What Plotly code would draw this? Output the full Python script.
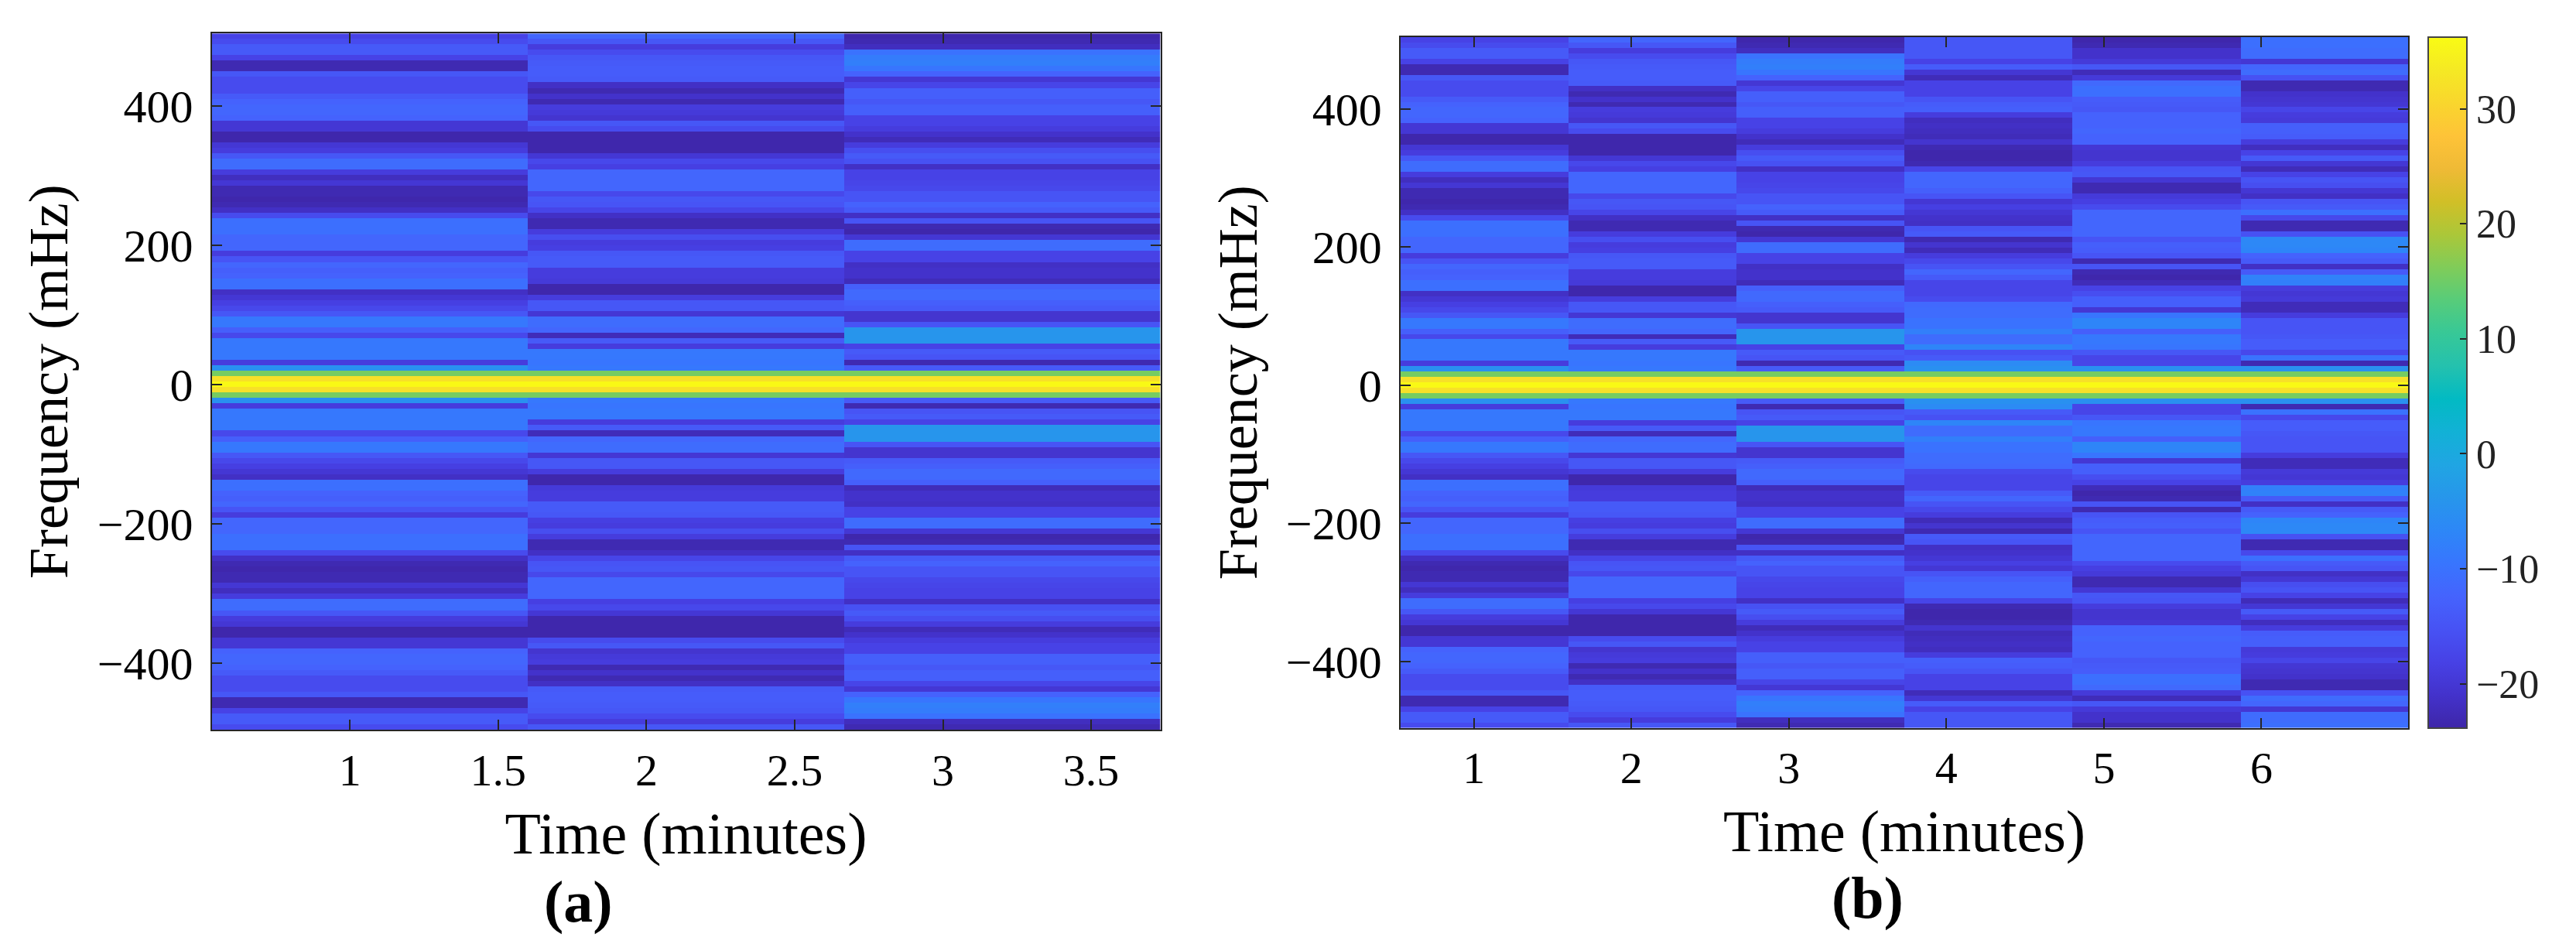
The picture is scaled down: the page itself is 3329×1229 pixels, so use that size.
import plotly.graph_objects as go

W, H = 3329, 1229

# one spectrum per block for bins k = 0..64 (dB)
# the spectra are mirror images around 0 Hz, so the negative bins reuse them
block_1 = [36, 32, 15.5, -5, -19, -9, -9, -9, -9, -17, -13, -9, -9, -14.5, -17, -18.5, -20, -21.5, -10.5, -10.5,
           -12.5, -13, -12, -15, -19, -12, -12, -12, -10.5, -10.5, -10.5, -16.5, -21.5, -23, -23.5, -23, -23,
           -20, -22, -19, -11, -11, -14.5, -19, -20, -23.5, -23.5, -20, -20, -12.5, -12, -12, -12.5, -14, -16.5,
           -16.5, -16.5, -14.5, -23, -23, -18, -14, -14, -16.5, -18]
block_2 = [36, 32, 15.5, -9, -9.5, -9, -9, -19, -14, -22.5, -12, -11, -11, -20, -14.5, -14.5, -19, -23.5, -23.5,
           -19.5, -19, -19, -14, -14, -14.5, -18.5, -19, -16, -19, -23, -23, -21.5, -17.5, -15, -14.5, -17, -12,
           -12, -12, -12, -18.5, -17, -20, -23.5, -23.5, -23.5, -23.5, -16.5, -14.5, -20.5, -19.5, -19, -23, -21,
           -23, -21.5, -14, -13.5, -13.5, -14, -14.5, -16.5, -19, -14.5, -12]
block_3 = [36, 32, 15.5, -14, -23, -15, -14, -18, -4, -4, -4, -15, -20.5, -20.5, -14, -13, -11.5, -11.5, -13,
           -22.5, -21, -21, -21.5, -18, -18, -11, -11, -20, -23.5, -23, -15, -21.5, -14, -12.5, -15, -15, -17,
           -17.5, -18, -18, -21.5, -15.5, -14, -16, -19, -22.5, -21, -19, -18, -18, -13, -13, -14.5, -13, -13,
           -17.5, -20, -12.5, -9.5, -8, -8.5, -10, -22, -23, -23.5]
block_4 = [36, 32, 15.5, -5, -6, -14, -15.5, -7, -11, -11, -8, -10, -10, -11, -11, -11.5, -16.5, -17.5, -17.5,
           -17.5, -14, -12, -15, -17, -19, -22.5, -20.5, -23, -14, -15, -21.5, -21, -20, -18.5, -20, -15, -13,
           -12, -12, -12, -17.5, -23, -23.5, -23.5, -23, -20.5, -22.5, -22, -21.5, -22, -19, -13, -13.5, -15,
           -18, -18, -18, -22.5, -20, -13.5, -18, -14.5, -14.5, -14.5, -14.5]
block_5 = [36, 32, 15.5, -5, -17.5, -17.5, -14.5, -9.5, -9, -9, -13, -7, -7, -9.5, -20, -13, -13, -16, -18, -22.5,
           -23.5, -23, -15, -23, -15, -13.5, -13, -15, -12, -12, -12, -12, -12, -16.5, -18.5, -19.5, -23, -23,
           -20, -14.5, -15, -19, -20.5, -20.5, -20, -12.5, -12.5, -12, -12.5, -12.5, -12.5, -14.5, -14, -13.5,
           -10.5, -10.5, -11.5, -19.5, -22.5, -14.5, -19.5, -21, -21, -23, -23.5]
block_6 = [36, 32, 15.5, -5, -23, -10, -17, -13.5, -13.5, -14.5, -15, -15, -15, -19, -22.5, -22.5, -19.5, -20, -19,
           -8, -7.5, -14, -21.5, -14, -12.5, -7, -6.5, -6.5, -15.5, -23, -23, -17, -10.5, -14, -15, -21.5, -20,
           -16, -15, -18, -22.5, -20, -14, -18, -22, -19, -13.5, -13, -13, -19.5, -19, -17.5, -20, -20.5, -21,
           -23, -23, -15.5, -11, -12, -20, -11, -11, -10.5, -10.5]

minutes_a = [1.0667, 2.1333, 3.2]
minutes_b = [1.0667, 2.1333, 3.2, 4.2667, 5.3333, 6.4]
bins = list(range(-63, 65))
freq_mhz = [k * 1000 / 128 for k in bins]

blocks_a = [block_1, block_2, block_3]
blocks_b = [block_1, block_2, block_3, block_4, block_5, block_6]

xticks_a = [1, 1.5, 2, 2.5, 3, 3.5]
xticks_b = [1, 2, 3, 4, 5, 6]
yticks = [-400, -200, 0, 200, 400]
cbar_ticks = [-20, -10, 0, 10, 20, 30]

parula = [
    "#3e26a8", "#4332cb", "#4741e5", "#4752f4", "#4563fd", "#3875fe", "#2d87f7", "#2796eb",
    "#20a5e3", "#12b1d6", "#02bac3", "#24c1ae", "#37c897", "#57cc7a", "#80cc59", "#abc739",
    "#d1bf27", "#efba36", "#fec338", "#f9d62d", "#f5e924", "#f9fb14",
]
colorscale = [[i / (len(parula) - 1), c] for i, c in enumerate(parula)]


def heat_rows(blocks):
    return [[b[abs(k)] for b in blocks] for k in bins]


fig = go.Figure()
fig.add_trace(go.Heatmap(x=minutes_a, y=freq_mhz, z=heat_rows(blocks_a), coloraxis="coloraxis",
                         xaxis="x", yaxis="y"))
fig.add_trace(go.Heatmap(x=minutes_b, y=freq_mhz, z=heat_rows(blocks_b), coloraxis="coloraxis",
                         xaxis="x2", yaxis="y2"))

axis_style = dict(
    showgrid=False, zeroline=False, showline=True, linecolor="#262626", linewidth=2,
    mirror="ticks", ticks="inside", ticklen=13, tickwidth=2, tickcolor="#262626",
)
x_style = dict(axis_style, tickfont=dict(family="Liberation Serif", size=58, color="black"),
               title_font=dict(family="Liberation Serif", size=76, color="black"),
               title_standoff=23, ticklabelstandoff=0)
y_style = dict(axis_style, tickfont=dict(family="Liberation Serif", size=60, color="black"),
               title_font=dict(family="Liberation Serif", size=72, color="black"),
               title_standoff=14, ticklabelstandoff=10)

fig.update_layout(
    width=W, height=H,
    margin=dict(l=0, r=0, t=0, b=0),
    paper_bgcolor="white", plot_bgcolor="white",
    showlegend=False,
    xaxis=dict(x_style, domain=[273.5 / W, 1499.5 / W], range=[0.5333, 3.7333], anchor="y",
               tickvals=xticks_a, title_text="Time (minutes)"),
    yaxis=dict(y_style, domain=[1 - 943 / H, 1 - 43.2 / H], range=[-496.09, 503.9], anchor="x",
               tickvals=yticks, title_text="Frequency (mHz)"),
    xaxis2=dict(x_style, domain=[1809.7 / W, 3112.4 / W], range=[0.5333, 6.9333], anchor="y2",
                tickvals=xticks_b, title_text="Time (minutes)"),
    yaxis2=dict(y_style, domain=[1 - 940.7 / H, 1 - 47.8 / H], range=[-496.09, 503.9], anchor="x2",
                tickvals=yticks, title_text="Frequency (mHz)"),
    coloraxis=dict(
        colorscale=colorscale, cmin=-23.85, cmax=36.24,
        colorbar=dict(
            x=3137.7 / W, xanchor="left", xpad=0, y=1 - 47.8 / H, yanchor="top", ypad=0,
            len=(940.7 - 47.8) / H, lenmode="fraction", thickness=49.7, thicknessmode="pixels",
            tickvals=cbar_ticks, ticks="inside", ticklen=10, tickwidth=2, tickcolor="#262626",
            tickprefix="\u2009", outlinecolor="#444444", outlinewidth=2,
            tickfont=dict(family="Liberation Serif", size=52, color="#222222"),
        ),
    ),
    annotations=[
        dict(text="<b>(a)</b>", x=747 / W, y=1 - 1165 / H, xref="paper", yref="paper", showarrow=False,
             xanchor="center", yanchor="middle",
             font=dict(family="Liberation Serif", size=76, color="black")),
        dict(text="<b>(b)</b>", x=2413 / W, y=1 - 1160 / H, xref="paper", yref="paper", showarrow=False,
             xanchor="center", yanchor="middle",
             font=dict(family="Liberation Serif", size=76, color="black")),
    ],
)

fig.write_html("out.html", config={"displayModeBar": False},
               post_script="document.body.style.margin='0'")
